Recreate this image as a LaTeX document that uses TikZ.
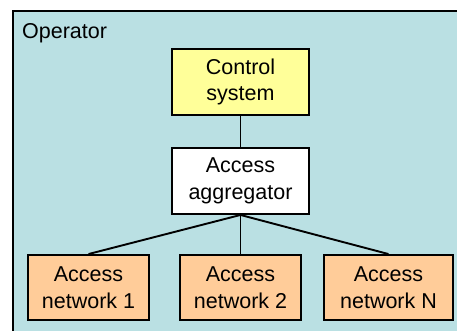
\documentclass[tikz,border=0pt]{standalone}
\usepackage{fontspec}
\setmainfont{Liberation Sans}
\begin{document}
\begin{tikzpicture}[x=1pt,y=-1pt,
  box/.style={draw=black,line width=1.9pt,inner sep=0pt,align=center,
    font=\fontsize{21.5}{26.5}\selectfont},
  link/.style={draw=black,line width=1.9pt}]
\definecolor{opbg}{RGB}{186,224,227}
\definecolor{ctrlfill}{RGB}{255,255,153}
\definecolor{netfill}{RGB}{255,204,153}
\useasboundingbox (0,0) rectangle (457,330);
\begin{scope}
\clip (0,0) rectangle (457,330);
\draw[fill=opbg,line width=2pt] (13,11) rectangle (472,345);
\end{scope}
\node[anchor=base west,inner sep=0pt,font=\fontsize{21.5}{26}\selectfont] (op) at (22,38) {Operator};
\node[box,fill=ctrlfill,minimum width=137pt,minimum height=66pt] (cs) at (240.5,82) {Control\\system};
\node[box,fill=white,minimum width=137pt,minimum height=66pt] (agg) at (240.5,181) {Access\\aggregator};
\node[box,fill=netfill,minimum width=121pt,minimum height=65pt] (n1) at (88.5,287.5) {Access\\network 1};
\node[box,fill=netfill,minimum width=121pt,minimum height=65pt] (n2) at (240.5,287.5) {Access\\network 2};
\node[box,fill=netfill,minimum width=129pt,minimum height=65pt] (nN) at (388.5,287.5) {Access\\network N};
\draw[link] (cs.south) -- (agg.north);
\draw[link] (agg.south) -- (n1.north);
\draw[link] (agg.south) -- (n2.north);
\draw[link] (agg.south) -- (nN.north);
\end{tikzpicture}
\end{document}
